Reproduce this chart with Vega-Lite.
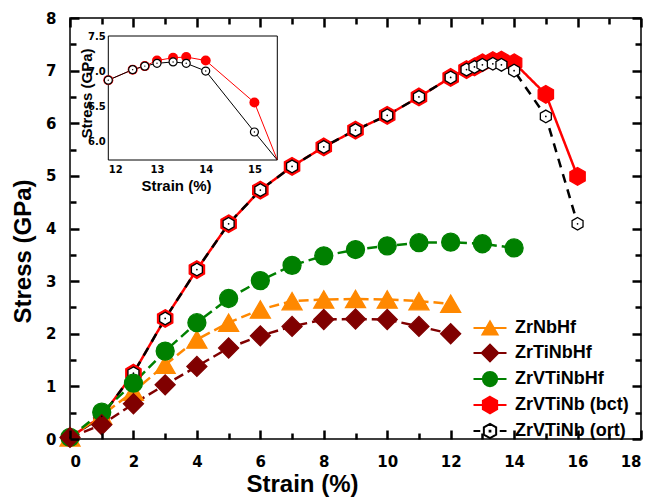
{
  "$schema": "https://vega.github.io/schema/vega-lite/v6.json",
  "width": 571,
  "height": 421,
  "autosize": {"type": "none"},
  "padding": {"left": 70, "top": 18, "right": 13, "bottom": 59},
  "background": "white",
  "config": {
    "view": {"stroke": "black", "strokeWidth": 1.5},
    "axis": {"domain": false, "grid": false, "labelColor": "black", "titleColor": "black"}
  },
  "datasets": {
    "curves": [
      {"series": "ZrVTiNb (bct)", "strain": 0, "stress": 0.03},
      {"series": "ZrVTiNb (bct)", "strain": 1, "stress": 0.43},
      {"series": "ZrVTiNb (bct)", "strain": 2, "stress": 1.25},
      {"series": "ZrVTiNb (bct)", "strain": 3, "stress": 2.29},
      {"series": "ZrVTiNb (bct)", "strain": 4, "stress": 3.22},
      {"series": "ZrVTiNb (bct)", "strain": 5, "stress": 4.09},
      {"series": "ZrVTiNb (bct)", "strain": 6, "stress": 4.73},
      {"series": "ZrVTiNb (bct)", "strain": 7, "stress": 5.18},
      {"series": "ZrVTiNb (bct)", "strain": 8, "stress": 5.55},
      {"series": "ZrVTiNb (bct)", "strain": 9, "stress": 5.87},
      {"series": "ZrVTiNb (bct)", "strain": 10, "stress": 6.15},
      {"series": "ZrVTiNb (bct)", "strain": 11, "stress": 6.5},
      {"series": "ZrVTiNb (bct)", "strain": 12, "stress": 6.87},
      {"series": "ZrVTiNb (bct)", "strain": 12.5, "stress": 7.02},
      {"series": "ZrVTiNb (bct)", "strain": 12.75, "stress": 7.07},
      {"series": "ZrVTiNb (bct)", "strain": 13, "stress": 7.15},
      {"series": "ZrVTiNb (bct)", "strain": 13.33, "stress": 7.19},
      {"series": "ZrVTiNb (bct)", "strain": 13.6, "stress": 7.2},
      {"series": "ZrVTiNb (bct)", "strain": 14, "stress": 7.15},
      {"series": "ZrVTiNb (bct)", "strain": 15, "stress": 6.55},
      {"series": "ZrVTiNb (bct)", "strain": 16, "stress": 4.99},
      {"series": "ZrVTiNb (ort)", "strain": 0, "stress": 0.03},
      {"series": "ZrVTiNb (ort)", "strain": 1, "stress": 0.43},
      {"series": "ZrVTiNb (ort)", "strain": 2, "stress": 1.25},
      {"series": "ZrVTiNb (ort)", "strain": 3, "stress": 2.29},
      {"series": "ZrVTiNb (ort)", "strain": 4, "stress": 3.22},
      {"series": "ZrVTiNb (ort)", "strain": 5, "stress": 4.09},
      {"series": "ZrVTiNb (ort)", "strain": 6, "stress": 4.73},
      {"series": "ZrVTiNb (ort)", "strain": 7, "stress": 5.18},
      {"series": "ZrVTiNb (ort)", "strain": 8, "stress": 5.55},
      {"series": "ZrVTiNb (ort)", "strain": 9, "stress": 5.87},
      {"series": "ZrVTiNb (ort)", "strain": 10, "stress": 6.15},
      {"series": "ZrVTiNb (ort)", "strain": 11, "stress": 6.5},
      {"series": "ZrVTiNb (ort)", "strain": 12, "stress": 6.87},
      {"series": "ZrVTiNb (ort)", "strain": 12.5, "stress": 7.02},
      {"series": "ZrVTiNb (ort)", "strain": 12.75, "stress": 7.07},
      {"series": "ZrVTiNb (ort)", "strain": 13, "stress": 7.11},
      {"series": "ZrVTiNb (ort)", "strain": 13.33, "stress": 7.13},
      {"series": "ZrVTiNb (ort)", "strain": 13.6, "stress": 7.11},
      {"series": "ZrVTiNb (ort)", "strain": 14, "stress": 7.0},
      {"series": "ZrVTiNb (ort)", "strain": 15, "stress": 6.13},
      {"series": "ZrVTiNb (ort)", "strain": 16, "stress": 4.09},
      {"series": "ZrNbHf", "strain": 0, "stress": 0.03},
      {"series": "ZrNbHf", "strain": 1, "stress": 0.45},
      {"series": "ZrNbHf", "strain": 2, "stress": 0.9},
      {"series": "ZrNbHf", "strain": 3, "stress": 1.41},
      {"series": "ZrNbHf", "strain": 4, "stress": 1.89},
      {"series": "ZrNbHf", "strain": 5, "stress": 2.21},
      {"series": "ZrNbHf", "strain": 6, "stress": 2.46},
      {"series": "ZrNbHf", "strain": 7, "stress": 2.62},
      {"series": "ZrNbHf", "strain": 8, "stress": 2.65},
      {"series": "ZrNbHf", "strain": 9, "stress": 2.66},
      {"series": "ZrNbHf", "strain": 10, "stress": 2.65},
      {"series": "ZrNbHf", "strain": 11, "stress": 2.62},
      {"series": "ZrNbHf", "strain": 12, "stress": 2.57},
      {"series": "ZrVTiNbHf", "strain": 0, "stress": 0.03},
      {"series": "ZrVTiNbHf", "strain": 1, "stress": 0.51},
      {"series": "ZrVTiNbHf", "strain": 2, "stress": 1.06},
      {"series": "ZrVTiNbHf", "strain": 3, "stress": 1.67},
      {"series": "ZrVTiNbHf", "strain": 4, "stress": 2.21},
      {"series": "ZrVTiNbHf", "strain": 5, "stress": 2.67},
      {"series": "ZrVTiNbHf", "strain": 6, "stress": 3.01},
      {"series": "ZrVTiNbHf", "strain": 7, "stress": 3.3},
      {"series": "ZrVTiNbHf", "strain": 8, "stress": 3.48},
      {"series": "ZrVTiNbHf", "strain": 9, "stress": 3.6},
      {"series": "ZrVTiNbHf", "strain": 10, "stress": 3.67},
      {"series": "ZrVTiNbHf", "strain": 11, "stress": 3.73},
      {"series": "ZrVTiNbHf", "strain": 12, "stress": 3.74},
      {"series": "ZrVTiNbHf", "strain": 13, "stress": 3.71},
      {"series": "ZrVTiNbHf", "strain": 14, "stress": 3.63},
      {"series": "ZrTiNbHf", "strain": 0, "stress": 0.03},
      {"series": "ZrTiNbHf", "strain": 1, "stress": 0.27},
      {"series": "ZrTiNbHf", "strain": 2, "stress": 0.67},
      {"series": "ZrTiNbHf", "strain": 3, "stress": 1.03},
      {"series": "ZrTiNbHf", "strain": 4, "stress": 1.38},
      {"series": "ZrTiNbHf", "strain": 5, "stress": 1.73},
      {"series": "ZrTiNbHf", "strain": 6, "stress": 1.96},
      {"series": "ZrTiNbHf", "strain": 7, "stress": 2.14},
      {"series": "ZrTiNbHf", "strain": 8, "stress": 2.27},
      {"series": "ZrTiNbHf", "strain": 9, "stress": 2.28},
      {"series": "ZrTiNbHf", "strain": 10, "stress": 2.27},
      {"series": "ZrTiNbHf", "strain": 11, "stress": 2.14},
      {"series": "ZrTiNbHf", "strain": 12, "stress": 2.0}
    ]
  },
  "layer": [
    {
      "data": {"name": "curves"},
      "layer": [
        {
          "mark": {"type": "line", "strokeWidth": 2.5},
          "encoding": {
            "x": {"field": "strain", "type": "quantitative", "scale": {"domain": [0, 18], "nice": false},
              "axis": {"orient": "bottom", "values": [0,2,4,6,8,10,12,14,16,18], "format": "d", "ticks": false,
                "labelPadding": 15, "labelFont": "DejaVu Sans", "labelFontSize": 15, "labelFontWeight": "bold",
                "title": "Strain (%)", "titleFont": "Liberation Sans", "titleFontSize": 24, "titleFontWeight": "bold",
                "titleX": 232, "titleY": 45, "titleBaseline": "middle", "titleAlign": "center"}},
            "y": {"field": "stress", "type": "quantitative", "scale": {"domain": [0, 8], "nice": false},
              "axis": {"orient": "left", "values": [0,1,2,3,4,5,6,7,8], "format": "d", "ticks": false,
                "labelPadding": 14, "labelFont": "DejaVu Sans", "labelFontSize": 15, "labelFontWeight": "bold",
                "title": "Stress (GPa)", "titleFont": "Liberation Sans", "titleFontSize": 24, "titleFontWeight": "bold",
                "titleX": -47, "titleY": 233, "titleAngle": 270, "titleBaseline": "middle", "titleAlign": "center"}},
            "color": {"field": "series", "type": "nominal", "legend": null,
              "scale": {"domain": ["ZrNbHf", "ZrTiNbHf", "ZrVTiNbHf", "ZrVTiNb (bct)", "ZrVTiNb (ort)"], "range": ["#ff8800", "#800000", "#008000", "#ff0000", "#000000"]}},
            "strokeDash": {"field": "series", "type": "nominal", "legend": null,
              "scale": {"domain": ["ZrNbHf", "ZrTiNbHf", "ZrVTiNbHf", "ZrVTiNb (bct)", "ZrVTiNb (ort)"], "range": [[10, 5], [10, 5], [10, 5], [1, 0], [9, 7]]}}
          }
        },
        {
          "mark": {"type": "point", "filled": true, "strokeWidth": 1.3, "opacity": 1},
          "encoding": {
            "x": {"field": "strain", "type": "quantitative",
              "axis": {"orient": "top", "offset": -421, "values": [0,2,4,6,8,10,12,14,16,18], "labels": false, "title": null, "ticks": true, "tickSize": 9, "tickColor": "#000000", "tickWidth": 2.5, "zindex": 2}},
            "y": {"field": "stress", "type": "quantitative",
              "axis": {"orient": "right", "offset": -571, "values": [0,1,2,3,4,5,6,7,8], "labels": false, "title": null, "ticks": true, "tickSize": 9, "tickColor": "#000000", "tickWidth": 2.5, "zindex": 2}},
            "shape": {"field": "series", "type": "nominal", "legend": null,
              "scale": {"domain": ["ZrNbHf", "ZrTiNbHf", "ZrVTiNbHf", "ZrVTiNb (bct)", "ZrVTiNb (ort)"],
                "range": ["triangle-up", "diamond", "circle", "M0,-1L0.866,-0.5L0.866,0.5L0,1L-0.866,0.5L-0.866,-0.5Z", "M0,-1L0.866,-0.5L0.866,0.5L0,1L-0.866,0.5L-0.866,-0.5Z"]}},
            "fill": {"field": "series", "type": "nominal", "legend": null,
              "scale": {"domain": ["ZrNbHf", "ZrTiNbHf", "ZrVTiNbHf", "ZrVTiNb (bct)", "ZrVTiNb (ort)"], "range": ["#ff8800", "#800000", "#008000", "#ff0000", "#ffffff"]}},
            "stroke": {"field": "series", "type": "nominal", "legend": null,
              "scale": {"domain": ["ZrNbHf", "ZrTiNbHf", "ZrVTiNbHf", "ZrVTiNb (bct)", "ZrVTiNb (ort)"], "range": ["#ff8800", "#800000", "#008000", "#ff0000", "#000000"]}},
            "size": {"field": "series", "type": "nominal", "legend": null,
              "scale": {"type": "ordinal", "domain": ["ZrNbHf", "ZrTiNbHf", "ZrVTiNbHf", "ZrVTiNb (bct)", "ZrVTiNb (ort)"], "range": [400, 400, 324, 313, 160]}}
          }
        },
        {
          "transform": [{"filter": "datum.series === 'ZrVTiNb (ort)'"}],
          "mark": {"type": "point", "filled": true, "size": 3, "color": "black", "opacity": 1},
          "encoding": {
            "x": {"field": "strain", "type": "quantitative",
              "axis": {"orient": "top", "offset": -421, "values": [1,3,5,7,9,11,13,15,17], "labels": false, "title": null, "ticks": true, "tickSize": 6, "tickColor": "#000000", "tickWidth": 2.5, "zindex": 2}},
            "y": {"field": "stress", "type": "quantitative",
              "axis": {"orient": "right", "offset": -571, "values": [0.5,1.5,2.5,3.5,4.5,5.5,6.5,7.5], "labels": false, "title": null, "ticks": true, "tickSize": 6, "tickColor": "#000000", "tickWidth": 2.5, "zindex": 2}}
          }
        },
        {
          "transform": [{"filter": "datum.strain === 0"}],
          "mark": {"type": "point", "filled": true, "size": 0, "strokeWidth": 2},
          "encoding": {
            "x": {"field": "strain", "type": "quantitative",
              "axis": {"orient": "bottom", "offset": -421, "values": [0,2,4,6,8,10,12,14,16,18], "labels": false, "title": null, "ticks": true, "tickSize": 9, "tickColor": "#000000", "tickWidth": 2.5, "zindex": 2}},
            "y": {"field": "stress", "type": "quantitative",
              "axis": {"orient": "left", "offset": -571, "values": [0,1,2,3,4,5,6,7,8], "labels": false, "title": null, "ticks": true, "tickSize": 9, "tickColor": "#000000", "tickWidth": 2.5, "zindex": 2}},
            "shape": {"field": "series", "type": "nominal",
              "scale": {"domain": ["ZrNbHf", "ZrTiNbHf", "ZrVTiNbHf", "ZrVTiNb (bct)", "ZrVTiNb (ort)"],
                "range": [
                  "M-2.2,0H2.2M0,-0.866L1,0.866L-1,0.866Z",
                  "M-2.2,0H2.2M-1.1,0L0,-1.1L1.1,0L0,1.1Z",
                  "M-2.2,0H2.2M0.95,0A0.95,0.95,0,1,1,-0.95,0A0.95,0.95,0,1,1,0.95,0Z",
                  "M-2.2,0H2.2M0,-1.1L0.95,-0.55L0.95,0.55L0,1.1L-0.95,0.55L-0.95,-0.55Z",
                  "M-2.2,0H-1.3M1.3,0H2.2M0,-0.95L0.82,-0.475L0.82,0.475L0,0.95L-0.82,0.475L-0.82,-0.475ZM-0.05,-0.05H0.05V0.05H-0.05Z"
                ]},
              "legend": {"orient": "none", "legendX": 411, "legendY": 301, "title": null, "padding": 0,
                "labelFont": "Liberation Sans", "labelFontSize": 18, "labelFontWeight": "bold", "labelColor": "black",
                "symbolSize": 225, "symbolStrokeWidth": 2, "symbolOpacity": 1, "rowPadding": 1, "labelOffset": 16}},
            "fill": {"field": "series", "type": "nominal",
              "scale": {"domain": ["ZrNbHf", "ZrTiNbHf", "ZrVTiNbHf", "ZrVTiNb (bct)", "ZrVTiNb (ort)"], "range": ["#ff8800", "#800000", "#008000", "#ff0000", "#ffffff"]}},
            "stroke": {"field": "series", "type": "nominal",
              "scale": {"domain": ["ZrNbHf", "ZrTiNbHf", "ZrVTiNbHf", "ZrVTiNb (bct)", "ZrVTiNb (ort)"], "range": ["#ff8800", "#800000", "#008000", "#ff0000", "#000000"]}}
          }
        },
        {
          "transform": [{"filter": "datum.strain === 0"}],
          "mark": {"type": "point", "filled": true, "size": 0, "opacity": 0},
          "encoding": {
            "x": {"field": "strain", "type": "quantitative",
              "axis": {"orient": "bottom", "offset": -421, "values": [1,3,5,7,9,11,13,15,17], "labels": false, "title": null, "ticks": true, "tickSize": 6, "tickColor": "#000000", "tickWidth": 2.5, "zindex": 2}},
            "y": {"field": "stress", "type": "quantitative",
              "axis": {"orient": "left", "offset": -571, "values": [0.5,1.5,2.5,3.5,4.5,5.5,6.5,7.5], "labels": false, "title": null, "ticks": true, "tickSize": 6, "tickColor": "#000000", "tickWidth": 2.5, "zindex": 2}}
          }
        }
      ],
      "resolve": {
        "scale": {"color": "independent", "fill": "independent", "stroke": "independent", "shape": "independent", "strokeDash": "independent", "size": "independent"},
        "axis": {"x": "independent", "y": "independent"}
      }
    },
    {
      "layer": [
        {
          "data": {"values": [{}]},
          "mark": {"type": "rect", "fill": "white", "stroke": "black", "strokeWidth": 1},
          "encoding": {
            "x": {"datum": 12, "type": "quantitative",
              "scale": {"domain": [12, 15.47], "range": [38.3, 207.3], "clamp": true, "nice": false, "zero": false},
              "axis": {"orient": "bottom", "offset": -279, "values": [12, 13, 14, 15], "format": "d", "zindex": 1,
                "ticks": false, "labelPadding": 4, "labelFont": "DejaVu Sans", "labelFontSize": 10, "labelFontWeight": "bold",
                "title": "Strain (%)", "titleFont": "Liberation Sans", "titleFontSize": 15, "titleFontWeight": "bold",
                "titleX": 106, "titleY": 25, "titleBaseline": "middle", "titleAlign": "center"}},
            "x2": {"datum": 15.47},
            "y": {"datum": 5.73, "type": "quantitative",
              "scale": {"domain": [5.73, 7.5], "range": [142, 18], "clamp": true, "nice": false, "zero": false},
              "axis": {"orient": "left", "offset": -38.3, "values": [6, 6.5, 7, 7.5], "format": ".1f", "zindex": 1,
                "ticks": false, "labelPadding": 3, "labelFont": "DejaVu Sans", "labelFontSize": 10, "labelFontWeight": "bold",
                "title": "Stress (GPa)", "titleFont": "Liberation Sans", "titleFontSize": 15, "titleFontWeight": "bold",
                "titleX": -22, "titleY": 75, "titleAngle": 270, "titleBaseline": "middle", "titleAlign": "center"}},
            "y2": {"datum": 7.5}
          }
        },
        {
          "data": {"name": "curves"},
          "transform": [{"filter": "datum.series === 'ZrVTiNb (bct)' && datum.strain >= 12"}],
          "mark": {"type": "line", "color": "#ff0000", "strokeWidth": 1},
          "encoding": {
            "x": {"field": "strain", "type": "quantitative"},
            "y": {"field": "stress", "type": "quantitative"}
          }
        },
        {
          "data": {"name": "curves"},
          "transform": [{"filter": "datum.series === 'ZrVTiNb (ort)' && datum.strain >= 12"}],
          "mark": {"type": "line", "color": "#000000", "strokeWidth": 1},
          "encoding": {
            "x": {"field": "strain", "type": "quantitative"},
            "y": {"field": "stress", "type": "quantitative"}
          }
        },
        {
          "data": {"name": "curves"},
          "transform": [{"filter": "datum.series === 'ZrVTiNb (bct)' && datum.strain >= 12 && datum.strain <= 15"}],
          "mark": {"type": "point", "filled": true, "color": "#ff0000", "size": 100, "opacity": 1},
          "encoding": {
            "x": {"field": "strain", "type": "quantitative"},
            "y": {"field": "stress", "type": "quantitative"}
          }
        },
        {
          "data": {"name": "curves"},
          "transform": [{"filter": "datum.series === 'ZrVTiNb (ort)' && datum.strain >= 12 && datum.strain <= 15"}],
          "mark": {"type": "point", "filled": true, "fill": "#ffffff", "stroke": "#000000", "strokeWidth": 1.2, "size": 64, "opacity": 1},
          "encoding": {
            "x": {"field": "strain", "type": "quantitative"},
            "y": {"field": "stress", "type": "quantitative"}
          }
        },
        {
          "data": {"name": "curves"},
          "transform": [{"filter": "datum.series === 'ZrVTiNb (ort)' && datum.strain >= 12 && datum.strain <= 15"}],
          "mark": {"type": "point", "filled": true, "color": "#000000", "size": 2, "opacity": 1},
          "encoding": {
            "x": {"field": "strain", "type": "quantitative"},
            "y": {"field": "stress", "type": "quantitative"}
          }
        }
      ]
    }
  ],
  "resolve": {"scale": {"x": "independent", "y": "independent"}}
}
